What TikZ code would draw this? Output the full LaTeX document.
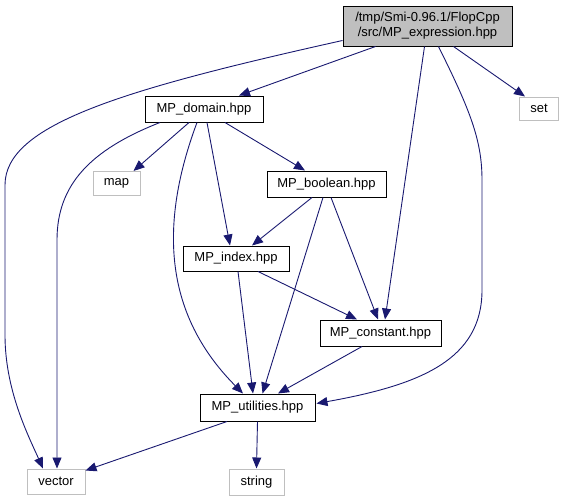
\documentclass[tikz,border=0pt]{standalone}
\usepackage{fontspec}
\setmainfont{Liberation Sans}
\usetikzlibrary{arrows.meta,calc}
\definecolor{edgecol}{HTML}{191970}
\definecolor{graybd}{HTML}{BFBFBF}
\begin{document}
\begin{tikzpicture}[x=1pt,y=-1pt,
  every node/.style={font=\fontsize{13}{15}\selectfont, inner sep=0pt},
  file/.style={draw=black, fill=white, line width=1pt},
  sysfile/.style={draw=graybd, fill=white, line width=1pt},
  cur/.style={draw=black, fill=graybd, line width=1pt, align=center},
  dep/.style={draw=edgecol, line width=0.9pt, -{Triangle[length=11pt,width=9pt]}}]
\useasboundingbox (0,0) rectangle (565,501);

\node[cur, minimum width=169pt, minimum height=40pt] (top) at (427.5,26) {/tmp/Smi-0.96.1/FlopCpp\\/src/MP\_expression.hpp};
\node[file, minimum width=118pt, minimum height=26pt] (domain) at (204,109) {MP\_domain.hpp};
\node[sysfile, minimum width=47pt, minimum height=24pt] (map) at (116.5,183.5) {map};
\node[sysfile, minimum width=39pt, minimum height=23pt] (set) at (539,108.5) {set};
\node[file, minimum width=119pt, minimum height=26pt] (boolean) at (326.5,184) {MP\_boolean.hpp};
\node[file, minimum width=106pt, minimum height=25pt] (index) at (236,258.5) {MP\_index.hpp};
\node[file, minimum width=121pt, minimum height=26pt] (constant) at (380.5,333) {MP\_constant.hpp};
\node[file, minimum width=115pt, minimum height=27pt] (utilities) at (257.5,407.5) {MP\_utilities.hpp};
\node[sysfile, minimum width=55pt, minimum height=26pt] (string) at (256.5,482) {string};
\node[sysfile, minimum width=58pt, minimum height=25pt] (vector) at (56,481.5) {vector};

% from MP_expression
\draw[dep] ($(top.south west)+(0,-6)$) .. controls (120,90) and (5,125) .. (5,185) -- (5,335) .. controls (5,390) and (28,435) .. ($(vector.north)+(-13,0)$);
\draw[dep] ($(top.south)+(-52,0)$) -- ($(domain.north)+(35,0)$);
\draw[dep] ($(top.south)+(26,0)$) -- ($(set.north)+(-14,0)$);
\draw[dep] ($(top.south)+(-3,0)$) -- ($(constant.north)+(4.5,0)$);
\draw[dep] ($(top.south)+(11,0)$) .. controls (470,110) and (482,140) .. (482,180) -- (482,290) .. controls (482,360) and (420,385) .. ($(utilities.east)+(1,-4)$);

% from MP_domain
\draw[dep] ($(domain.south)+(-15,0)$) -- ($(map.north)+(17,0)$);
\draw[dep] ($(domain.south)+(-44,0)$) .. controls (90,150) and (57,185) .. (57,240) -- ($(vector.north)+(1,0)$);
\draw[dep] ($(domain.south)+(-7,0)$) .. controls (155,235) and (170,320) .. ($(utilities.north)+(-14.5,0)$);
\draw[dep] ($(domain.south)+(3,0)$) -- ($(index.north)+(-6,0)$);
\draw[dep] ($(domain.south)+(21,0)$) -- ($(boolean.north)+(-21.5,0)$);

% from MP_boolean
\draw[dep] ($(boolean.south)+(-14.5,0)$) -- ($(index.north)+(16,0)$);
\draw[dep] ($(boolean.south)+(-3.5,0)$) -- ($(utilities.north)+(5,0)$);
\draw[dep] ($(boolean.south)+(4.5,0)$) -- ($(constant.north)+(-2.5,0)$);

% from MP_index
\draw[dep] ($(index.south)+(22,0)$) -- ($(constant.north)+(-23.5,0)$);
\draw[dep] ($(index.south)+(2,0)$) -- ($(utilities.north)+(-4.5,0)$);

% from MP_constant
\draw[dep] ($(constant.south)+(-18.5,0)$) -- ($(utilities.north)+(20.5,0)$);

% from MP_utilities
\draw[dep] ($(utilities.south)+(-30.5,0)$) -- ($(vector.north east)+(0,2)$);
\draw[dep] (utilities.south) -- (string.north);
\end{tikzpicture}
\end{document}
